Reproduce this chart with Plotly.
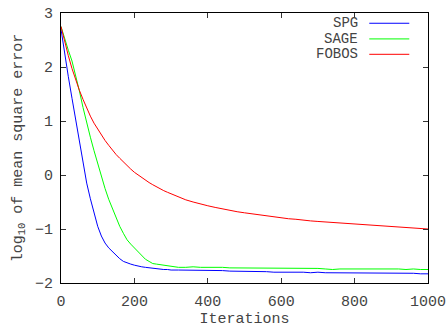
import plotly.graph_objects as go

iters = list(range(0, 301, 10)) + list(range(320, 1001, 20))

spg = [2.70, 2.22, 1.82, 1.42, 1.04, 0.64, 0.22, -0.15, -0.44, -0.70,
       -0.95, -1.13, -1.26, -1.35, -1.42, -1.49, -1.55, -1.60, -1.63, -1.65,
       -1.67, -1.69, -1.70, -1.71, -1.72, -1.73, -1.74, -1.74, -1.75, -1.75,
       -1.76,
       -1.76, -1.76, -1.76, -1.77, -1.77, -1.76, -1.77, -1.78, -1.78, -1.78,
       -1.79, -1.78, -1.79, -1.80, -1.80, -1.79, -1.80, -1.80, -1.81, -1.80,
       -1.81, -1.81, -1.81, -1.81, -1.82, -1.81, -1.82, -1.82, -1.81, -1.82,
       -1.82, -1.82, -1.82, -1.83, -1.83]

sage = [2.75, 2.52, 2.31, 2.11, 1.86, 1.56, 1.25, 0.95, 0.70, 0.45,
        0.20, -0.02, -0.25, -0.45, -0.62, -0.78, -0.95, -1.08, -1.20, -1.28,
        -1.35, -1.43, -1.50, -1.56, -1.60, -1.64, -1.65, -1.66, -1.67, -1.69,
        -1.70,
        -1.71, -1.71, -1.70, -1.71, -1.71, -1.70, -1.71, -1.72, -1.72, -1.72,
        -1.73, -1.72, -1.73, -1.73, -1.73, -1.73, -1.72, -1.72, -1.73, -1.73,
        -1.74, -1.75, -1.74, -1.74, -1.74, -1.74, -1.74, -1.74, -1.73, -1.74,
        -1.74, -1.75, -1.74, -1.75, -1.75]

fobos = [2.75, 2.47, 2.21, 1.97, 1.76, 1.57, 1.40, 1.24, 1.09, 0.96,
         0.85, 0.74, 0.64, 0.55, 0.46, 0.38, 0.31, 0.24, 0.17, 0.11,
         0.05, 0.00, -0.05, -0.10, -0.14, -0.18, -0.22, -0.26, -0.29, -0.32,
         -0.35,
         -0.41, -0.46, -0.50, -0.54, -0.57, -0.60, -0.63, -0.66, -0.68, -0.70,
         -0.72, -0.74, -0.76, -0.78, -0.79, -0.81, -0.82, -0.84, -0.85, -0.86,
         -0.87, -0.88, -0.89, -0.90, -0.91, -0.92, -0.93, -0.94, -0.95, -0.96,
         -0.97, -0.97, -0.98, -0.99, -1.00]

series_names = ["SPG", "SAGE", "FOBOS"]
series_colors = ["#0000ff", "#00ff00", "#ff0000"]
series_values = [spg, sage, fobos]

x_ticks = [0, 200, 400, 600, 800, 1000]
y_ticks = [-2, -1, 0, 1, 2, 3]

FONT = "Liberation Mono, Courier New, monospace"
TXT = "#444444"

fig = go.Figure()
for name, color, vals in zip(series_names, series_colors, series_values):
    fig.add_trace(go.Scatter(x=iters, y=vals, mode="lines", name=name,
                             line=dict(color=color, width=1), showlegend=False))

# custom gnuplot-style legend: text on the left, line sample on the right
leg_y = [0.962, 0.904, 0.847]
for name, color, yy in zip(series_names, series_colors, leg_y):
    fig.add_annotation(xref="paper", yref="paper", x=0.815, y=yy, text=name,
                       showarrow=False, xanchor="right", yanchor="middle",
                       font=dict(family=FONT, size=14, color=TXT))
    fig.add_shape(type="line", xref="paper", yref="paper", x0=0.840, x1=0.949,
                  y0=yy, y1=yy, line=dict(color=color, width=1))

axis_common = dict(showline=True, linecolor="black", linewidth=1, mirror="ticks",
                   ticks="inside", ticklen=5, tickcolor="#333333", showgrid=False,
                   zeroline=False, tickfont=dict(family=FONT, size=15, color=TXT))

fig.update_xaxes(range=[0, 1000], tickvals=x_ticks, ticktext=[str(v) for v in x_ticks],
                 ticklabelstandoff=4,
                 title=dict(text="Iterations", font=dict(family=FONT, size=15, color=TXT),
                            standoff=2),
                 **axis_common)
fig.update_yaxes(range=[-2, 3], tickvals=y_ticks,
                 ticktext=["\u22122", "\u22121", "0", "1", "2", "3"],
                 ticklabelstandoff=4,
                 title=dict(text="log<sub>10</sub> of mean square error",
                            font=dict(family=FONT, size=15, color=TXT), standoff=8),
                 **axis_common)

fig.update_layout(width=447, height=330, plot_bgcolor="white", paper_bgcolor="white",
                  margin=dict(l=61, r=19, t=13, b=47, autoexpand=False),
                  font=dict(family=FONT, size=15, color=TXT))

fig.write_html("out.html", config={"displayModeBar": False},
               post_script="document.body.style.margin='0';document.body.style.overflow='hidden';")
